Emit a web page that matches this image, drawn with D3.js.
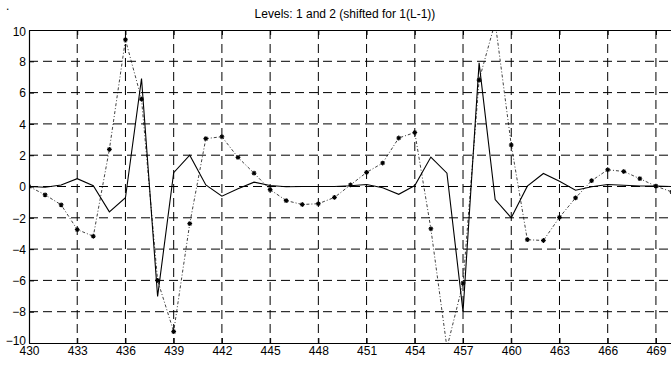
<!DOCTYPE html>
<html>
<head>
    <meta charset="UTF-8">
    <title>Levels 1 and 2</title>
    <script src="https://d3js.org/d3.v7.min.js"></script>
    <style>
        *{
            padding:0;
            margin:0;
        }
        body { background: #fff; }
        text {
            font-family: "Liberation Sans", Arial, sans-serif;
            font-size: 12px;
            fill: #000;
        }
        .grid line {
            stroke: #000;
            stroke-width: 1px;
            stroke-dasharray: 9,5;
        }
    </style>
</head>
<body>
    <svg id='main' width="671" height="365"></svg>
    <script>
// sample positions
const samples = d3.range(430, 471);

// level 1 (solid)
const level1 = [0, -0.05, 0.1, 0.5, 0.05, -1.62, -0.72, 6.9, -7.03, 0.88,
    2.0, 0.1, -0.62, -0.15, 0.28, 0.06, -0.02, 0, 0, 0,
    0.05, 0.13, -0.08, -0.5, 0.06, 1.88, 0.85, -8.0, 7.9, -0.83,
    -2.0, 0.02, 0.83, 0.34, -0.24, -0.02, 0.13, 0.08, 0.03, 0.03, 0];

// level 2 shifted (dash-dot with stars)
const level2 = [0, -0.53, -1.17, -2.75, -3.18, 2.37, 9.38, 5.58, -6.0, -9.27,
    -2.37, 3.06, 3.18, 1.86, 0.85, -0.2, -0.9, -1.15, -1.1, -0.7,
    0.1, 0.9, 1.5, 3.1, 3.45, -2.7, -10.3, -6.17, 6.8, 10.5,
    2.65, -3.4, -3.45, -1.97, -0.73, 0.37, 1.07, 0.96, 0.5, 0.02, -0.35];

const xTicks = d3.range(430, 470, 3);
const yTicks = d3.range(-10, 11, 2);

const svg = d3.select("svg");
const mLeft = 29, mRight = 672, mTop = 30, mBottom = 343;

const x = d3.scaleLinear().domain([430, 470]).range([mLeft, mRight]);
const y = d3.scaleLinear().domain([-10, 10]).range([mBottom, mTop]);

svg.append("defs").append("clipPath").attr("id", "plotclip")
    .append("rect")
    .attr("x", mLeft).attr("y", mTop)
    .attr("width", mRight - mLeft).attr("height", mBottom - mTop);

// grid
const grid = svg.append("g").attr("class", "grid");
grid.selectAll(".vx")
    .data(xTicks.filter(d => d > 430))
    .enter().append("line")
    .attr("x1", d => x(d)).attr("x2", d => x(d))
    .attr("y1", mTop).attr("y2", mBottom);
grid.selectAll(".hy")
    .data(yTicks.filter(d => d > -10 && d < 10))
    .enter().append("line")
    .attr("x1", mLeft).attr("x2", mRight)
    .attr("y1", d => y(d)).attr("y2", d => y(d));

// axes
const xAxis = svg.append("g")
    .attr("transform", `translate(0,${mBottom})`)
    .call(d3.axisBottom(x).tickValues(xTicks).tickSizeInner(-5).tickSizeOuter(0).tickPadding(5));
const yAxis = svg.append("g")
    .attr("transform", `translate(${mLeft},0)`)
    .call(d3.axisLeft(y).tickValues(yTicks).tickSizeInner(-5).tickSizeOuter(0).tickPadding(3));
const xTop = svg.append("g")
    .attr("transform", `translate(0,${mTop})`)
    .call(d3.axisTop(x).tickValues(xTicks).tickSizeInner(-5).tickSizeOuter(0).tickFormat(""));
[xAxis, yAxis, xTop].forEach(a => {
    a.selectAll("path").attr("stroke", "#000").attr("stroke-width", 1.2);
    a.selectAll("line").attr("stroke", "#000");
    a.selectAll("text").attr("font-size", 12.5).attr("font-family", "Liberation Sans, Arial, sans-serif").attr("fill", "#000");
});
xAxis.selectAll("text").attr("dy", "0.6em");
yAxis.selectAll("text").attr("dy", "0.35em");
yAxis.selectAll(".tick").filter(d => d === -10).select("text").attr("dy", "0.1em");
yAxis.selectAll(".tick").filter(d => d === 10).select("text").attr("dy", "0.45em");

const plot = svg.append("g").attr("clip-path", "url(#plotclip)");

const line = d3.line().x((d, i) => x(samples[i])).y(d => y(d));

plot.append("path")
    .datum(level2)
    .attr("d", line)
    .attr("fill", "none")
    .attr("stroke", "#111")
    .attr("stroke-width", 0.8)
    .attr("stroke-dasharray", "3,2,1,2");

plot.append("path")
    .datum(level1)
    .attr("d", line)
    .attr("fill", "none")
    .attr("stroke", "#000")
    .attr("stroke-width", 1.1);

// star markers
const s = 2.4, t = 1.7;
const star = `M${-s},0L${s},0M0,${-s}L0,${s}M${-t},${-t}L${t},${t}M${-t},${t}L${t},${-t}`;
plot.selectAll(".star")
    .data(level2)
    .enter().append("path")
    .attr("transform", (d, i) => `translate(${x(samples[i])},${y(d)})`)
    .attr("d", star)
    .attr("fill", "none")
    .attr("stroke", "#000")
    .attr("stroke-width", 1.1);

svg.append("text")
    .attr("x", 345).attr("y", 18)
    .attr("text-anchor", "middle")
    .text("Levels: 1 and 2 (shifted for 1(L-1))");

svg.append("text")
    .attr("x", 6).attr("y", 10)
    .attr("font-size", 10)
    .text(".");
    </script>
</body>
</html>
